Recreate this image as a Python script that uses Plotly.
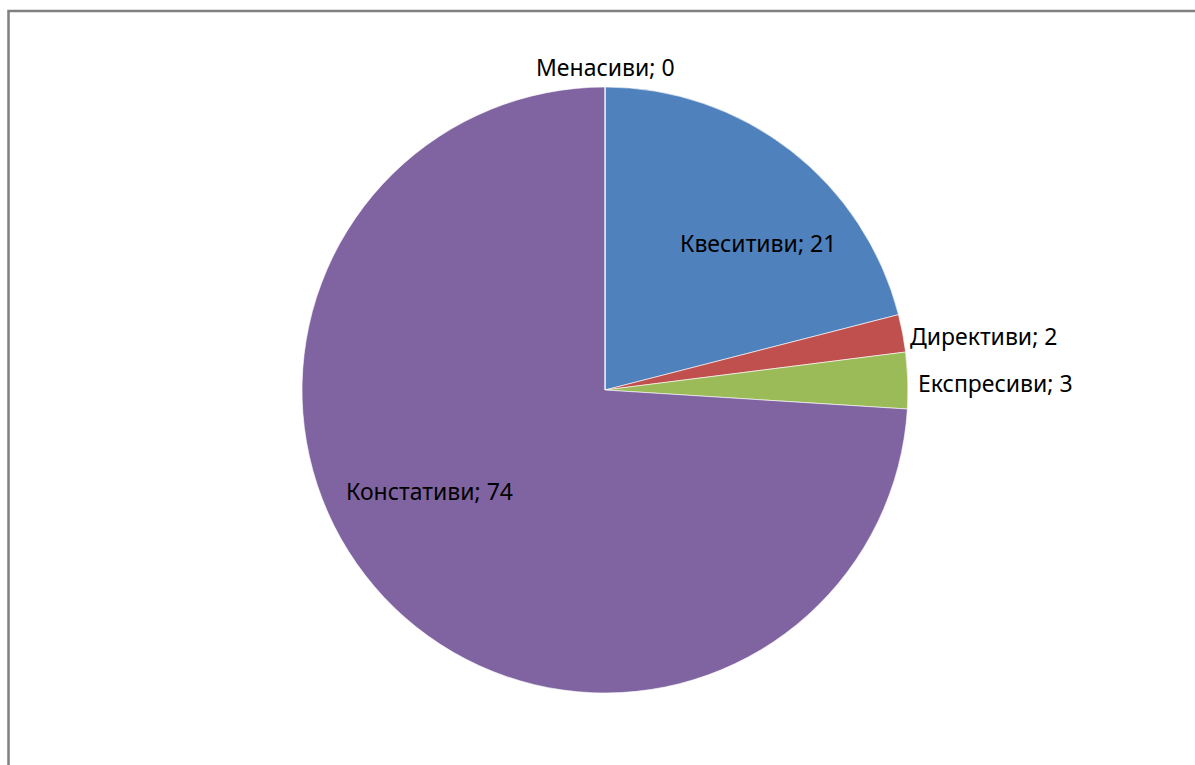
import math
import plotly.graph_objects as go

# Speech-act categories and their counts
labels = ["Квеситиви", "Директиви", "Експресиви", "Констативи", "Менасиви"]
values = [21, 2, 3, 74, 0]
colors = ["#4F81BD", "#C0504D", "#9BBB59", "#8064A2", "#4BACC6"]

W, H = 1195, 765
CX, CY, R = 605, 390, 303  # pie centre and radius in pixels

# Label placement: ("in", radius fraction, angle deg) or ("out", gap px)
label_place = [("in", 0.70, 46), ("out", 5), ("out", 8), ("in", 0.667, 240), ("out", 2)]


def px_to_paper(x, y):
    return x / W, 1 - y / H


fig = go.Figure(go.Pie(
    labels=labels,
    values=values,
    sort=False,
    direction="clockwise",
    rotation=0,
    marker=dict(colors=colors, line=dict(color="rgba(255,255,255,0.6)", width=1)),
    textinfo="none",
    hoverinfo="label+value",
    domain=dict(x=[(CX - R) / W, (CX + R) / W], y=[1 - (CY + R) / H, 1 - (CY - R) / H]),
    showlegend=False,
))

total = sum(values)
cum = 0
annotations = []
for lab, val, place in zip(labels, values, label_place):
    start = cum / total * 360
    cum += val
    end = cum / total * 360
    mid = (start + end) / 2
    text = f"{lab}; {val}"
    if place[0] == "in":
        frac, ang = place[1], place[2]
        a = math.radians(ang)
        x = CX + frac * R * math.sin(a)
        y = CY - frac * R * math.cos(a)
        px, py = px_to_paper(x, y)
        annotations.append(dict(x=px, y=py, xref="paper", yref="paper", text=text,
                                showarrow=False, xanchor="center", yanchor="middle"))
    else:
        gap = place[1]
        a = math.radians(mid % 360)
        x = CX + R * math.sin(a)
        y = CY - R * math.cos(a)
        if abs(math.sin(a)) < 0.2:
            # label above or below the pie
            px, py = px_to_paper(x, y - gap if math.cos(a) > 0 else y + gap)
            annotations.append(dict(x=px, y=py, xref="paper", yref="paper", text=text,
                                    showarrow=False, xanchor="center",
                                    yanchor="bottom" if math.cos(a) > 0 else "top"))
        else:
            px, py = px_to_paper(x + gap if math.sin(a) > 0 else x - gap, y + 3)
            annotations.append(dict(x=px, y=py, xref="paper", yref="paper", text=text,
                                    showarrow=False,
                                    xanchor="left" if math.sin(a) > 0 else "right",
                                    yanchor="middle"))

fig.update_layout(
    width=W, height=H,
    margin=dict(l=0, r=0, t=0, b=0),
    paper_bgcolor="white",
    plot_bgcolor="white",
    font=dict(family="Noto Sans, Open Sans, sans-serif", size=23, color="#000000"),
    annotations=annotations,
    shapes=[dict(type="rect", xref="paper", yref="paper",
                 x0=8.5 / W, y0=-0.05, x1=1.05, y1=1 - 11 / H,
                 line=dict(color="#808080", width=2.5), fillcolor="rgba(0,0,0,0)")],
)

fig.write_html("out.html")
